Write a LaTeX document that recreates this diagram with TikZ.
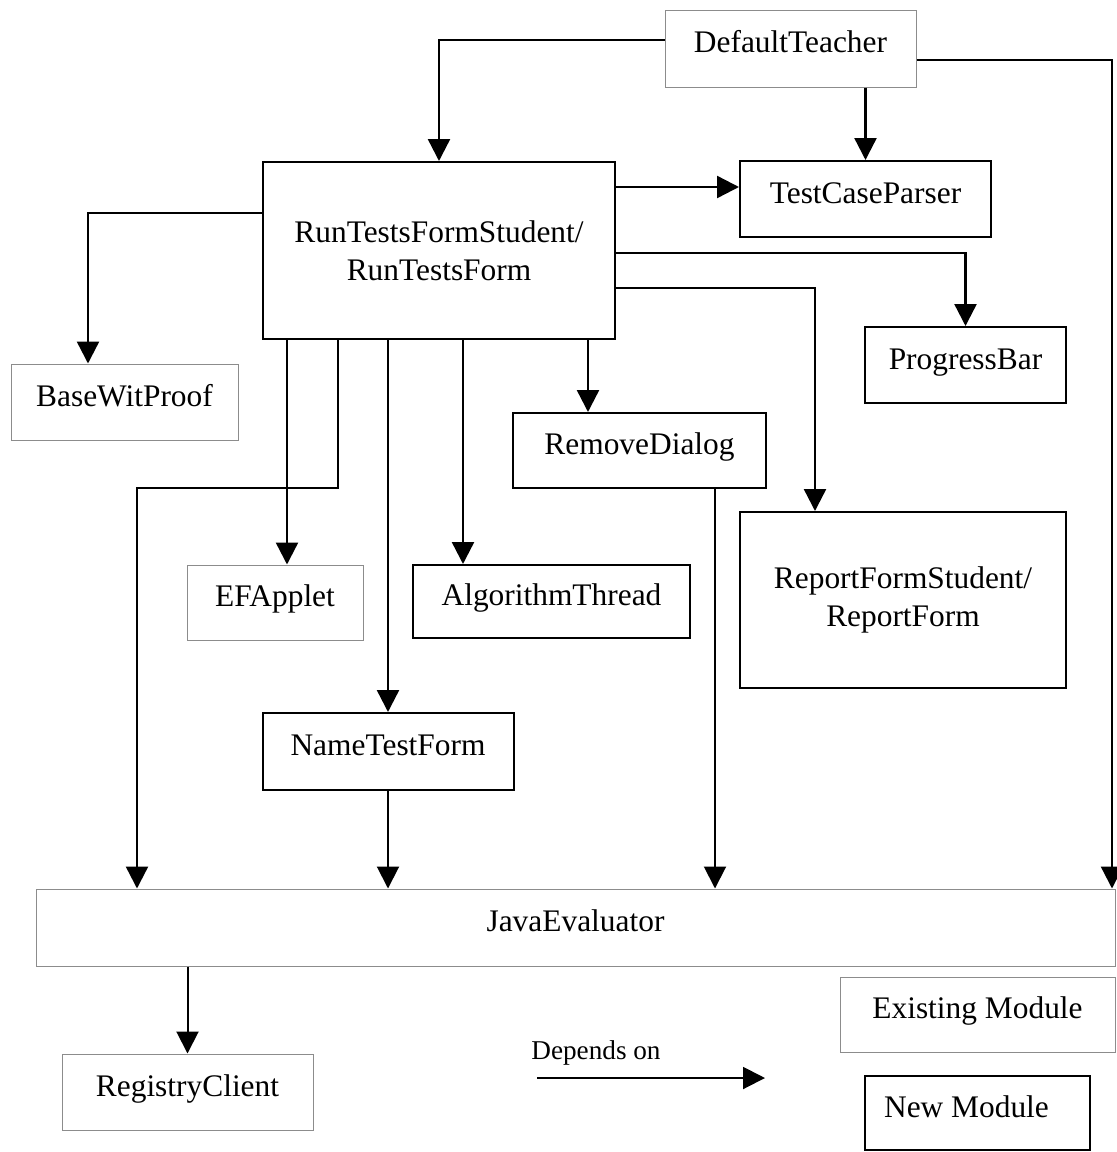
\documentclass[tikz,border=0pt]{standalone}
\usepackage{fontspec}
\setmainfont{Liberation Serif}
\usetikzlibrary{arrows.meta,calc}
\begin{document}
\begin{tikzpicture}[x=0.5pt,y=-0.5pt,
  every node/.style={font=\fontsize{15.7}{19}\selectfont},
  oldbox/.style={draw=black!45, line width=0.5pt, inner sep=0pt, text height=11pt, text depth=7pt},
  newbox/.style={draw=black, line width=1pt, inner sep=0pt, text height=11pt, text depth=7pt},
  multi/.style={align=center, text height=, text depth=},
  dep/.style={line width=1.2pt, -{Triangle[width=11pt,length=11pt]}},
  depthin/.style={dep, line width=1pt}
]
\useasboundingbox (0,0) rectangle (1117,1152);

\node[oldbox, minimum width=125.5pt, minimum height=38.5pt] (DT) at (790.5,48.5) {DefaultTeacher};
\node[newbox, minimum width=125.5pt, minimum height=38pt] (TCP) at (865.5,199) {TestCaseParser};
\node[newbox, multi, minimum width=176pt, minimum height=88.5pt] (RT) at (439,250.5) {RunTestsFormStudent/\\RunTestsForm};
\node[newbox, minimum width=100.5pt, minimum height=38pt] (PB) at (965.5,365) {ProgressBar};
\node[oldbox, minimum width=113.5pt, minimum height=38pt] (BWP) at (124.5,402) {BaseWitProof};
\node[newbox, minimum width=126.5pt, minimum height=37.5pt] (RD) at (639.5,450.5) {RemoveDialog};
\node[oldbox, minimum width=88pt, minimum height=37.5pt] (EF) at (275,602.5) {EFApplet};
\node[newbox, minimum width=138.5pt, minimum height=36.5pt] (AT) at (551.5,601.5) {AlgorithmThread};
\node[newbox, multi, minimum width=163pt, minimum height=88pt] (RF) at (903,600) {ReportFormStudent/\\ReportForm};
\node[newbox, minimum width=125.5pt, minimum height=38.5pt] (NTF) at (388,751.5) {NameTestForm};
\node[oldbox, minimum width=539.5pt, minimum height=38.5pt] (JE) at (575.5,927.5) {JavaEvaluator};
\node[oldbox, minimum width=125.5pt, minimum height=38pt] (RC) at (187.5,1092) {RegistryClient};
\node[oldbox, minimum width=137.5pt, minimum height=37.5pt] (EM) at (977.5,1014.5) {Existing Module};
\node[newbox, minimum width=112.5pt, minimum height=37pt] (NM) at (977.5,1113) {\hspace*{-11pt}New Module};

% DefaultTeacher connectors
\draw[dep] (DT.west |- 0,40) -| (RT.north);
\draw[dep] (DT.south -| TCP.north) -- (TCP.north);
\draw[dep] (DT.east |- 0,60) -| (JE.north -| 1112,0);

% RunTests connectors (right side)
\draw[dep] (RT.east |- 0,187) -- (TCP.west |- 0,187);
\draw[dep] (RT.east |- 0,253) -| (PB.north);
\draw[dep] (RT.east |- 0,288) -| (RF.north -| 815,0);

% left side
\draw[dep] (RT.west |- 0,213) -| (BWP.north -| 88,0);

% bottom side
\draw[dep] (RT.south -| 287,0) -- (EF.north -| 287,0);
\draw[dep] (RT.south -| 338,0) -- (338,488) -- (137,488) -- (JE.north -| 137,0);
\draw[dep] (RT.south -| NTF.north) -- (NTF.north);
\draw[dep] (RT.south -| 463,0) -- (AT.north -| 463,0);
\draw[dep] (RT.south -| 588,0) -- (RD.north -| 588,0);

% into JavaEvaluator
\draw[depthin] (RD.south -| 715,0) -- (JE.north -| 715,0);
\draw[depthin] (NTF.south) -- (JE.north -| NTF.south);
\draw[depthin] (JE.south -| RC.north) -- (RC.north);

% legend
\coordinate (L1) at (537,1078);
\coordinate (L2) at (765,1078);
\draw[depthin] (L1) -- (L2);
\node[font=\fontsize{13.6}{16}\selectfont] (DL) at (596,1053) {Depends on};
\end{tikzpicture}
\end{document}
